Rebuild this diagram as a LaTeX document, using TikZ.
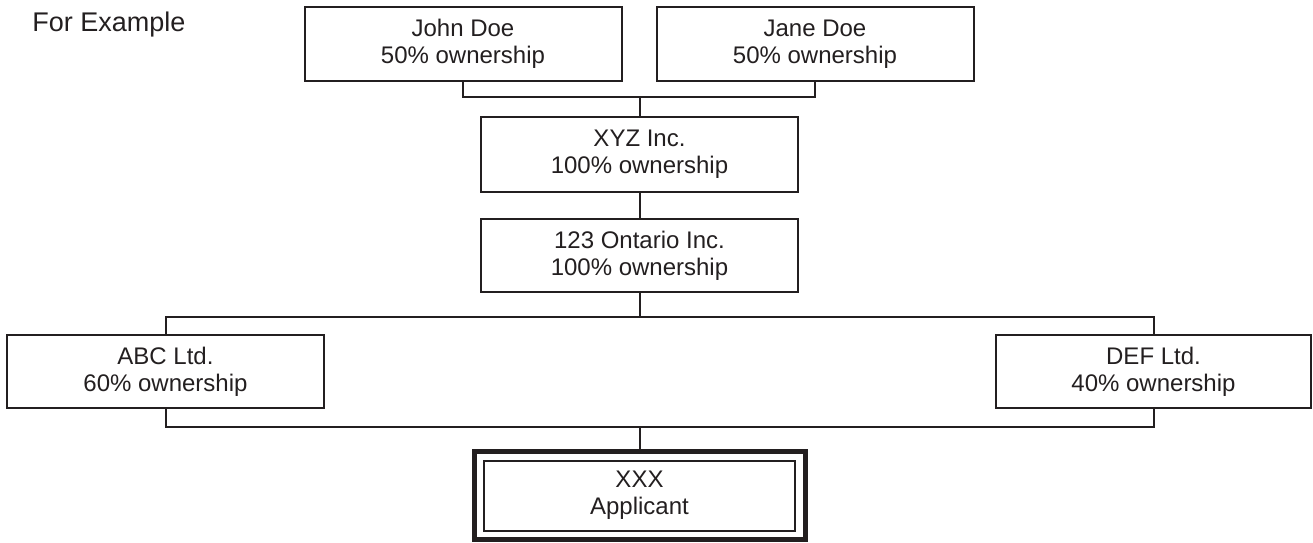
\documentclass[tikz,border=0pt]{standalone}
\usepackage{fontspec}
\setmainfont{Liberation Sans}
\usetikzlibrary{fit}
\definecolor{ink}{HTML}{231F20}
\begin{document}
\begin{tikzpicture}[
x=1pt,y=-1pt,
line width=2pt,
color=ink,
every node/.style={font=\fontsize{24}{27}\selectfont},
owner/.style={draw,align=center,minimum width=317pt,minimum height=74pt,inner sep=0pt,outer sep=0pt},
frame/.style={draw,line width=5pt,inner xsep=10pt,inner ysep=9pt}
]
\useasboundingbox (0,0) rectangle (1313,542);
\node[anchor=base west,font=\fontsize{27}{32}\selectfont] (title) at (28,31) {For Example};
\node[owner] (john) at (463,44) {John Doe\\50\% ownership};
\node[owner] (jane) at (815,44) {Jane Doe\\50\% ownership};
\node[owner,minimum height=75pt] (xyz) at (639.5,154.5) {XYZ Inc.\\100\% ownership};
\node[owner,minimum height=73pt] (ontario) at (639.5,255.5) {123 Ontario Inc.\\100\% ownership};
\node[owner,minimum height=73pt] (abc) at (165.5,371.5) {ABC Ltd.\\60\% ownership};
\node[owner,minimum width=315pt,minimum height=73pt] (def) at (1153.5,371.5) {DEF Ltd.\\40\% ownership};
\node[owner,minimum width=311pt,minimum height=70pt] (app) at (639.5,495.5) {XXX\\Applicant};
\node[frame,fit=(app)] (appframe) {};
\coordinate (topbus) at (639.5,97);
\coordinate (midbus) at (639.5,317);
\coordinate (lowbus) at (639.5,427);
\draw (john.south) |- (topbus) -| (jane.south);
\draw (topbus) -- (xyz.north);
\draw (xyz.south) -- (ontario.north);
\draw (ontario.south) -- (midbus);
\draw (abc.north) |- (midbus) -| (def.north);
\draw (abc.south) |- (lowbus) -| (def.south);
\draw (lowbus) -- (appframe.north);
\end{tikzpicture}
\end{document}
